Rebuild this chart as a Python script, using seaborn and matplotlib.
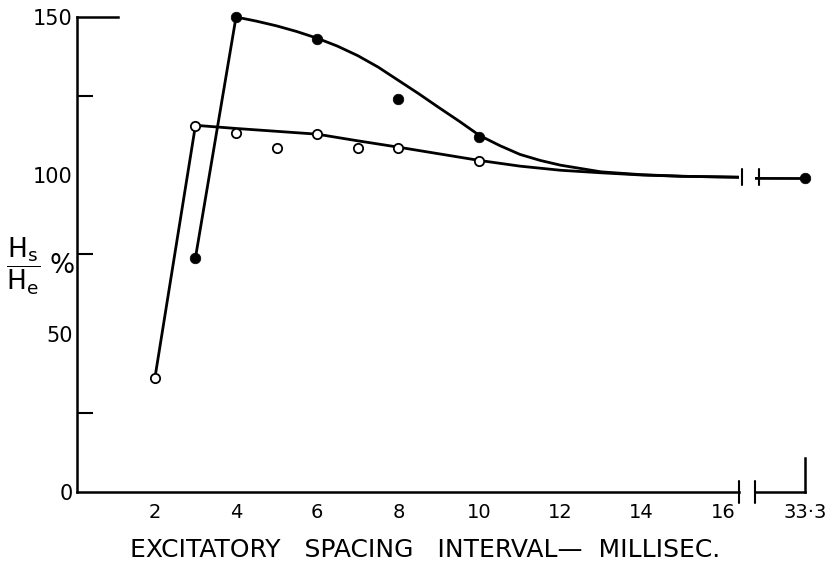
import matplotlib
matplotlib.use("Agg")
import matplotlib.pyplot as plt
import matplotlib.transforms as mtransforms
from matplotlib.ticker import FixedLocator
import seaborn as sns
import pandas as pd

# ---------------- data ----------------
closed_x = [3, 4, 6, 8, 10, 33.3]
closed_y = [74, 150, 143, 124, 112, 99]

open_x = [2, 3, 4, 5, 6, 7, 8, 10]
open_y = [36, 115.5, 113.5, 108.5, 113, 108.5, 108.5, 104.5]

closed_curve_x = [3, 4, 4.5, 5, 5.5, 6, 6.5, 7, 7.5, 8, 8.5, 9, 9.5, 10,
                  10.5, 11, 11.5, 12, 13, 14, 15, 16.4, 33.3]
closed_curve_y = [74, 150, 148.7, 147.2, 145.4, 143.3, 140.8, 137.8, 134.2,
                  130.0, 125.8, 121.4, 117.1, 112.6, 109.4, 106.6, 104.7,
                  103.2, 101.1, 100.2, 99.7, 99.4, 99]

open_curve_x = [2, 3, 4, 5, 6, 7, 8, 9, 10, 11, 12, 13, 14, 15, 16.4]
open_curve_y = [36, 115.8, 114.8, 113.9, 113.0, 110.9, 108.9, 106.8, 104.7,
                102.9, 101.6, 100.8, 100.1, 99.7, 99.4]

x_ticks = [2, 4, 6, 8, 10, 12, 14, 16]
x_tick_labels = ["2", "4", "6", "8", "10", "12", "14", "16"]
far_tick = [33.3]
far_tick_label = ["33·3"]
y_major = [0, 50, 100, 150]
y_major_labels = ["0", "50", "100", "150"]
y_minor = [25, 75, 125]

x_label = "EXCITATORY   SPACING   INTERVAL\u2014  MILLISEC."
y_label = r"$\dfrac{\mathrm{H_s}}{\mathrm{H_e}}$ %"

# ---------------- figure ----------------
sns.set_theme(style="white")
plt.rcParams['font.family'] = ['DejaVu Sans']

W, H = 833, 565
fig = plt.figure(figsize=(W / 100, H / 100), dpi=100)

px_per_unit = 40.57
left_lim = (0.08, 16.4)
right_lim = (32.07, 33.3)
ax_bottom_px, ax_top_px = 492, 17
ax_left_px = 77
ax_h = (ax_bottom_px - ax_top_px) / H
ax_b = (H - ax_bottom_px) / H

ax = fig.add_axes([ax_left_px / W, ax_b,
                   (left_lim[1] - left_lim[0]) * px_per_unit / W, ax_h])
ax2_left_px = ax_left_px + (left_lim[1] - left_lim[0]) * px_per_unit + 16
ax2 = fig.add_axes([ax2_left_px / W, ax_b,
                    (right_lim[1] - right_lim[0]) * px_per_unit / W, ax_h],
                   sharey=ax)

df_cc = pd.DataFrame({"x": closed_curve_x, "y": closed_curve_y})
df_oc = pd.DataFrame({"x": open_curve_x, "y": open_curve_y})
df_c = pd.DataFrame({"x": closed_x, "y": closed_y})
df_o = pd.DataFrame({"x": open_x, "y": open_y})

lw = 2.0
for a in (ax, ax2):
    sns.lineplot(data=df_cc, x="x", y="y", sort=False, estimator=None,
                 color="black", lw=lw, ax=a, zorder=2)
    sns.lineplot(data=df_oc, x="x", y="y", sort=False, estimator=None,
                 color="black", lw=lw, ax=a, zorder=2)
    sns.scatterplot(data=df_c, x="x", y="y", color="black", s=58,
                    edgecolor="black", linewidth=0.5, ax=a, zorder=4,
                    clip_on=False)
    sns.scatterplot(data=df_o, x="x", y="y", facecolor="white", s=45,
                    edgecolor="black", linewidth=1.3, ax=a, zorder=4,
                    clip_on=False)

ax.set_xlim(*left_lim)
ax2.set_xlim(*right_lim)
ax.set_ylim(0, 150)

# spines
spw = 1.8
for s in ax.spines.values():
    s.set_color("black")
    s.set_linewidth(spw)
ax.spines["right"].set_visible(False)
ax.spines["top"].set_bounds(left_lim[0], 1.1)
for s in ax2.spines.values():
    s.set_color("black")
    s.set_linewidth(spw)
ax2.spines["left"].set_visible(False)
ax2.spines["top"].set_visible(False)
ax2.spines["right"].set_bounds(0, 10.8)

# ticks
ax.xaxis.set_major_locator(FixedLocator(x_ticks))
ax.set_xticklabels(x_tick_labels)
ax.yaxis.set_major_locator(FixedLocator(y_major))
ax.set_yticklabels(y_major_labels)
ax.yaxis.set_minor_locator(FixedLocator(y_minor))
ax.tick_params(axis="x", which="major", direction="in", length=9, width=1.5,
               color="black", pad=8, labelsize=14, labelcolor="black")
ax.tick_params(axis="y", which="both", direction="in", length=11.5, width=1.5,
               color="black", pad=3, labelsize=15, labelcolor="black")
ax.tick_params(axis="y", which="minor", left=True)

ax2.xaxis.set_major_locator(FixedLocator(far_tick))
ax2.set_xticklabels(far_tick_label)
ax2.tick_params(axis="x", which="major", length=0, pad=8, labelsize=14,
                labelcolor="black")
ax2.tick_params(axis="y", which="both", left=False, right=False,
                labelleft=False, labelright=False)

# labels
ax.set_xlabel(x_label, fontsize=18, color="black")
ax.xaxis.set_label_coords(0.526, -0.096)
ax.xaxis.label.set_va("top")
ax2.set_xlabel("")
ax.set_ylabel(y_label, fontsize=19, rotation=0, color="black",
              ha="center", va="center")
ax.yaxis.set_label_coords(-0.054, 0.475)
ax2.set_ylabel("")

# break marks
tb = mtransforms.blended_transform_factory(ax.transAxes, ax.transData)
tb2 = mtransforms.blended_transform_factory(ax2.transAxes, ax2.transData)
ax.plot([1, 1], [-3.5, 3.5], transform=tb, color="black", lw=1.5,
        clip_on=False)
ax2.plot([0, 0], [-3.5, 3.5], transform=tb2, color="black", lw=1.5,
         clip_on=False)
yb = closed_curve_y[-2]
ax.plot([1.004, 1.004], [yb - 2.5, yb + 2.5], transform=tb, color="black",
        lw=1.5, clip_on=False)
ax2.plot([0.08, 0.08], [yb - 2.5, yb + 2.5], transform=tb2, color="black",
         lw=1.5, clip_on=False)

fig.savefig("out.png", dpi=100, facecolor="white")
